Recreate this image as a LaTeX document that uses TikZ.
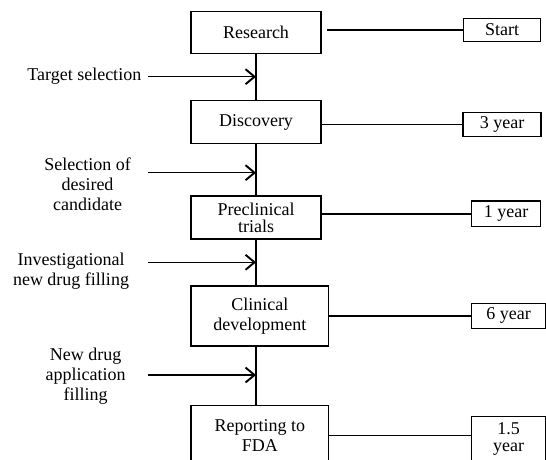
\documentclass[tikz,border=0pt]{standalone}
\usepackage{fontspec}
\setmainfont{Liberation Serif}
\usetikzlibrary{positioning, arrows.meta}
\newcommand{\stagefont}{\fontsize{18}{20}\selectfont}
\newcommand{\tightfont}{\fontsize{18}{17}\selectfont}
\newcommand{\feedarrow}{-{Straight Barb[length=9pt,width=15pt,line width=1.9pt]}}
\tikzset{
  stage/.style={draw, line width=1.4pt, inner sep=0pt, align=center, font=\stagefont},
  timebox/.style={draw, line width=1.4pt, inner sep=0pt, align=center, font=\stagefont},
  sidenote/.style={inner sep=0pt, align=center, font=\stagefont}
}

\begin{document}
\begin{tikzpicture}[x=1pt, y=-1pt, line width=1.4pt]
        \useasboundingbox (0,0) rectangle (546,459);
        \clip (0,0) rectangle (546,459);
        % stages
        \node[stage, minimum width=130pt, minimum height=42pt] (research) at (256,32.5) {Research};
        \node[stage, minimum width=130pt, minimum height=43pt] (discovery) at (256,122) {Discovery};
        \node[stage, minimum width=130pt, minimum height=43pt, font=\tightfont] (preclin) at (256,217.5) {Preclinical\\trials};
        \node[stage, minimum width=137.5pt, minimum height=60pt] (clinical) at (259.8,316) {Clinical\\development};
        \node[stage, minimum width=137.5pt, minimum height=59.4pt] (reporting) at (259.8,435.4) {Reporting to\\FDA};
        % durations
        \node[timebox, minimum width=77.4pt, minimum height=23.4pt] (start) at (502,30) {Start};
        \node[timebox, minimum width=78pt, minimum height=24.4pt] (three) at (502,124.5) {3 year};
        \node[timebox, minimum width=69.4pt, minimum height=25.7pt] (one) at (506,213.8) {1 year};
        \node[timebox, minimum width=74.4pt, minimum height=25pt] (six) at (508.5,315.8) {6 year};
        \node[timebox, minimum width=74.4pt, minimum height=45pt, font=\tightfont] (onehalf) at (508.5,439.2) {1.5\\year};
        % inputs
        \node[sidenote, anchor=base] (target) at (84.3,80) {Target selection};
        \node[sidenote, anchor=base] (candidate) at (87.5,210.7) {Selection of\\desired\\candidate};
        \node[sidenote, anchor=base] (ind) at (71,285) {Investigational\\new drug filling};
        \node[sidenote, anchor=base] (nda) at (85.7,400) {New drug\\application\\filling};
        \coordinate (targetin) at (147.7,76.7);
        \coordinate (candidatein) at (147.7,172.7);
        \coordinate (indin) at (147.7,262.3);
        \coordinate (ndain) at (147.7,375);
        % spine
        \draw (research.south) -- (discovery.north);
        \draw (discovery.south) -- (preclin.north);
        \draw (preclin.south) -- (preclin.south |- clinical.north);
        \draw (preclin.south |- clinical.south) -- (preclin.south |- reporting.north);
        \draw[\feedarrow] (targetin) -- (targetin -| research.south);
        \draw[\feedarrow] (candidatein) -- (candidatein -| research.south);
        \draw[\feedarrow] (indin) -- (indin -| research.south);
        \draw[\feedarrow] (ndain) -- (ndain -| research.south);
        % time links
        \draw[shorten >=5pt] (start.west) -- (start.west -| research.east);
        \draw (discovery.east |- three.west) -- (three.west);
        \draw (preclin.east |- one.west) -- (one.west);
        \draw (clinical.east |- six.west) -- (six.west);
        \draw (reporting.east) -- (reporting.east -| onehalf.west);
    \end{tikzpicture}
\end{document}
